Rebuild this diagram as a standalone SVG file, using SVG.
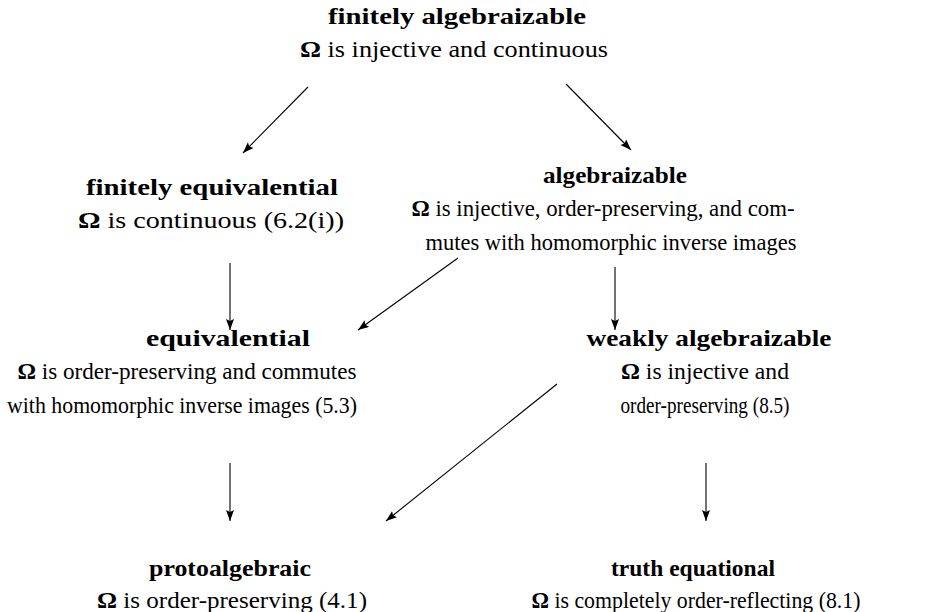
<svg xmlns="http://www.w3.org/2000/svg" width="952" height="612" viewBox="0 0 952 612">
<style>
text{font-family:"Liberation Serif","Times New Roman",serif;font-size:23px;fill:#000;text-anchor:middle}
.t{font-weight:bold}
.o{font-weight:bold}
.c line{stroke:#000;stroke-width:1.1;fill:none}
</style>
<defs>
<marker id="ah" markerUnits="userSpaceOnUse" markerWidth="12" markerHeight="10" refX="11" refY="4" orient="auto">
<path d="M0,0 L11,4 L0,8 L2,4 z" fill="#000"/>
</marker>
</defs>
<rect width="952" height="612" fill="#fff"/>
<g id="n-finitely-algebraizable">
<text class="t" x="457" y="24" textLength="258" lengthAdjust="spacingAndGlyphs">finitely algebraizable</text>
<text x="454" y="57" textLength="308" lengthAdjust="spacingAndGlyphs"><tspan class="o">Ω</tspan> is injective and continuous</text>
</g>
<g id="n-finitely-equivalential">
<text class="t" x="212" y="195" textLength="252" lengthAdjust="spacingAndGlyphs">finitely equivalential</text>
<text x="211" y="228" textLength="266" lengthAdjust="spacingAndGlyphs"><tspan class="o">Ω</tspan> is continuous (6.2(i))</text>
</g>
<g id="n-algebraizable">
<text class="t" x="615" y="183" textLength="144" lengthAdjust="spacingAndGlyphs">algebraizable</text>
<text x="603" y="216" textLength="383" lengthAdjust="spacingAndGlyphs"><tspan class="o">Ω</tspan> is injective, order-preserving, and com-</text>
<text x="611" y="250" textLength="371" lengthAdjust="spacingAndGlyphs">mutes with homomorphic inverse images</text>
</g>
<g id="n-equivalential">
<text class="t" x="228" y="346" textLength="164" lengthAdjust="spacingAndGlyphs">equivalential</text>
<text x="187" y="379" textLength="339" lengthAdjust="spacingAndGlyphs"><tspan class="o">Ω</tspan> is order-preserving and commutes</text>
<text x="182" y="413" textLength="350" lengthAdjust="spacingAndGlyphs">with homomorphic inverse images (5.3)</text>
</g>
<g id="n-weakly-algebraizable">
<text class="t" x="709" y="346" textLength="245" lengthAdjust="spacingAndGlyphs">weakly algebraizable</text>
<text x="705" y="379" textLength="168" lengthAdjust="spacingAndGlyphs"><tspan class="o">Ω</tspan> is injective and</text>
<text x="705" y="413" textLength="169" lengthAdjust="spacingAndGlyphs">order-preserving (8.5)</text>
</g>
<g id="n-protoalgebraic">
<text class="t" x="230" y="576" textLength="162" lengthAdjust="spacingAndGlyphs">protoalgebraic</text>
<text x="232" y="608" textLength="270" lengthAdjust="spacingAndGlyphs"><tspan class="o">Ω</tspan> is order-preserving (4.1)</text>
</g>
<g id="n-truth-equational">
<text class="t" x="693" y="576" textLength="164" lengthAdjust="spacingAndGlyphs">truth equational</text>
<text x="696" y="608" textLength="329" lengthAdjust="spacingAndGlyphs"><tspan class="o">Ω</tspan> is completely order-reflecting (8.1)</text>
</g>
<g id="connectors" class="c">
<line x1="308" y1="87" x2="243" y2="153" marker-end="url(#ah)"/>
<line x1="566" y1="84" x2="631" y2="150" marker-end="url(#ah)"/>
<line x1="230" y1="263" x2="230" y2="330" marker-end="url(#ah)"/>
<line x1="458" y1="258" x2="358" y2="330" marker-end="url(#ah)"/>
<line x1="615" y1="267" x2="615" y2="330" marker-end="url(#ah)"/>
<line x1="557" y1="384" x2="386" y2="521" marker-end="url(#ah)"/>
<line x1="230" y1="463" x2="230" y2="521" marker-end="url(#ah)"/>
<line x1="706" y1="463" x2="706" y2="521" marker-end="url(#ah)"/>
</g>
</svg>
